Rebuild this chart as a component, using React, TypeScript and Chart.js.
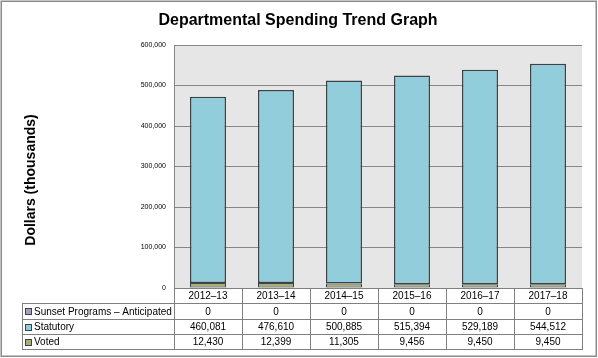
import React, { useEffect, useRef } from 'react';
import { Chart, registerables } from 'chart.js';

Chart.register(...registerables);

const categories = ['2012–13', '2013–14', '2014–15', '2015–16', '2016–17', '2017–18'];
const sunsetValues = [0, 0, 0, 0, 0, 0];
const statutoryValues = [460081, 476610, 500885, 515394, 529189, 544512];
const votedValues = [12430, 12399, 11305, 9456, 9450, 9450];
const yTickValues = [0, 100000, 200000, 300000, 400000, 500000, 600000];

const TITLE = 'Departmental Spending Trend Graph';
const Y_TITLE = 'Dollars (thousands)';

const SUNSET_COLOR = '#a49fbb';
const STATUTORY_COLOR = '#92cddc';
const VOTED_COLOR = '#a7ad7b';
const EDGE = '#3c4448';
const GRID = '#868686';
const FONT = '"Liberation Sans", Arial, sans-serif';

const fmt = (v: number) => v.toLocaleString('en-US');

const tableRows = [
  { label: 'Sunset Programs – Anticipated', values: sunsetValues, color: SUNSET_COLOR },
  { label: 'Statutory', values: statutoryValues, color: STATUTORY_COLOR },
  { label: 'Voted', values: votedValues, color: VOTED_COLOR },
];

const decorPlugin = {
  id: 'decor',
  beforeDraw(chart: any) {
    const { ctx, chartArea: a } = chart;
    ctx.save();
    ctx.fillStyle = '#ffffff';
    ctx.fillRect(0, 0, chart.width, chart.height);
    ctx.fillStyle = '#e6e6e6';
    ctx.fillRect(a.left, a.top, a.right - a.left, a.bottom - a.top);
    ctx.restore();
  },
  afterDraw(chart: any) {
    const { ctx, chartArea: a, scales } = chart;
    const x = scales.x;
    const n = categories.length;
    const colW = (a.right - a.left) / n;
    const rowH = [15, 16, 15, 15];
    const tops: number[] = [Math.round(a.bottom)];
    rowH.forEach((h) => tops.push(tops[tops.length - 1] + h));
    const labelLeft = 22;
    const px = (v: number) => Math.round(v) + 0.5;

    ctx.save();
    ctx.strokeStyle = '#8a8a8a';
    ctx.lineWidth = 1.5;
    ctx.strokeRect(1.25, 1.25, chart.width - 3, chart.height - 3);

    ctx.fillStyle = '#000';
    ctx.font = `bold 16px ${FONT}`;
    ctx.textAlign = 'center';
    ctx.textBaseline = 'alphabetic';
    ctx.fillText(TITLE, 298, 25);

    ctx.save();
    ctx.translate(31, 180);
    ctx.rotate(-Math.PI / 2);
    ctx.font = `bold 14px ${FONT}`;
    ctx.textAlign = 'center';
    ctx.textBaseline = 'middle';
    ctx.fillText(Y_TITLE, 0, 0);
    ctx.restore();

    ctx.strokeStyle = '#808080';
    ctx.lineWidth = 1;
    ctx.beginPath();
    for (let r = 0; r < tops.length; r++) {
      const l = r === 0 ? a.left : labelLeft;
      ctx.moveTo(l, px(tops[r]));
      ctx.lineTo(a.right, px(tops[r]));
    }
    for (let i = 0; i <= n; i++) {
      const cx = i < n ? x.getPixelForValue(i) - colW / 2 : x.getPixelForValue(n - 1) + colW / 2;
      ctx.moveTo(px(cx), tops[0]);
      ctx.lineTo(px(cx), tops[tops.length - 1] + 1);
    }
    ctx.moveTo(px(labelLeft), tops[1]);
    ctx.lineTo(px(labelLeft), tops[tops.length - 1] + 1);
    ctx.stroke();

    ctx.font = `10px ${FONT}`;
    ctx.fillStyle = '#000';
    ctx.textBaseline = 'middle';
    ctx.textAlign = 'center';
    categories.forEach((c, i) => {
      ctx.fillText(c, x.getPixelForValue(i), (tops[0] + tops[1]) / 2 + 1);
    });
    tableRows.forEach((row, r) => {
      const yMid = (tops[r + 1] + tops[r + 2]) / 2 + 1;
      ctx.textAlign = 'center';
      row.values.forEach((v, i) => {
        ctx.fillText(fmt(v), x.getPixelForValue(i), yMid);
      });
      ctx.fillStyle = row.color;
      ctx.fillRect(25, Math.round(yMid) - 4, 7, 7);
      ctx.strokeStyle = EDGE;
      ctx.strokeRect(25.5, Math.round(yMid) - 3.5, 6, 6);
      ctx.fillStyle = '#000';
      ctx.textAlign = 'left';
      ctx.fillText(row.label, 34, yMid);
    });
    ctx.restore();
  },
};

export default function App() {
  const ref = useRef<HTMLCanvasElement | null>(null);
  useEffect(() => {
    document.body.style.margin = '0';
    const canvas = ref.current;
    if (!canvas) return;
    const chart = new Chart(canvas, {
      type: 'bar',
      data: {
        labels: categories,
        datasets: [
          {
            label: 'Voted',
            data: votedValues,
            backgroundColor: VOTED_COLOR,
            borderColor: EDGE,
            borderWidth: 1,
            borderSkipped: false,
          },
          {
            label: 'Statutory',
            data: statutoryValues,
            backgroundColor: STATUTORY_COLOR,
            borderColor: EDGE,
            borderWidth: 1.5,
            borderSkipped: false,
          },
          {
            label: 'Sunset Programs – Anticipated',
            data: sunsetValues,
            backgroundColor: SUNSET_COLOR,
            borderColor: EDGE,
            borderWidth: 0,
          },
        ],
      },
      options: {
        responsive: false,
        animation: false,
        devicePixelRatio: 1,
        layout: { padding: { top: 45, right: 16, left: 0, bottom: 0 } },
        plugins: {
          legend: { display: false },
          title: { display: false },
          tooltip: { enabled: false },
        },
        datasets: { bar: { categoryPercentage: 1, barPercentage: 36 / 68 } },
        scales: {
          x: {
            stacked: true,
            grid: { display: false, drawTicks: false },
            border: { display: true, color: GRID, width: 1 },
            ticks: { display: false },
            afterFit: (s: any) => {
              s.height = 70;
            },
          },
          y: {
            stacked: true,
            min: 0,
            max: 600000,
            afterBuildTicks: (s: any) => {
              s.ticks = yTickValues.map((v) => ({ value: v }));
            },
            grid: { color: GRID, lineWidth: 1, drawTicks: false },
            border: { display: true, color: GRID, width: 1 },
            ticks: {
              padding: 8,
              color: '#000',
              font: { size: 7, family: FONT },
              callback: (v: any) => fmt(Number(v)),
            },
            afterFit: (s: any) => {
              s.width = 174;
            },
          },
        },
      },
      plugins: [decorPlugin],
    });
    return () => chart.destroy();
  }, []);
  return <canvas ref={ref} width={598} height={358} style={{ display: 'block' }} />;
}
